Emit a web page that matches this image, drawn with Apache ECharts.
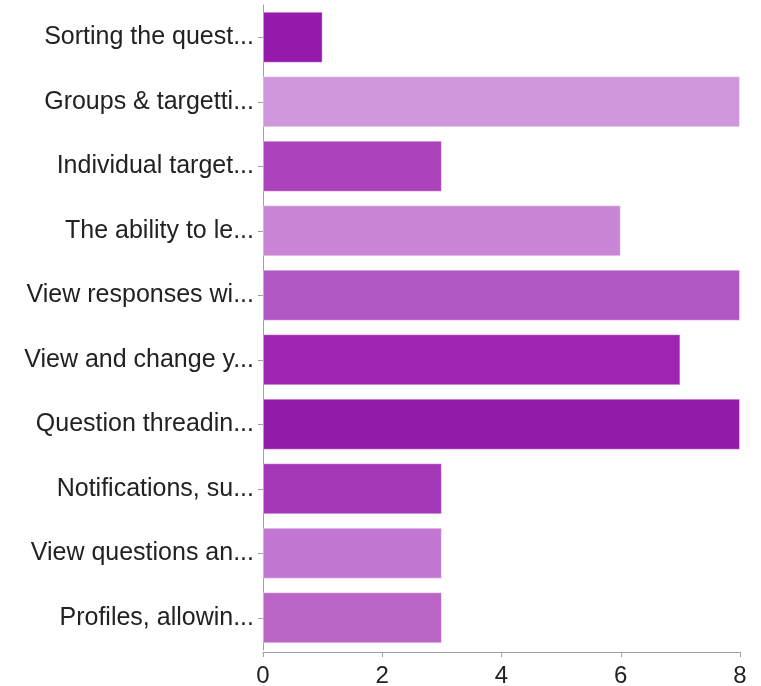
<!DOCTYPE html>
<html>
<head>
<meta charset="utf-8">
<script src="https://cdn.jsdelivr.net/npm/echarts@6/dist/echarts.min.js"></script>
<style>
  html, body { margin: 0; padding: 0; background: #fff; }
  #chart { width: 761px; height: 686px; }
</style>
</head>
<body>
<div id="chart"></div>
<script>
// Feature categories, listed top to bottom
const categories = [
  'Sorting the quest...',
  'Groups & targetti...',
  'Individual target...',
  'The ability to le...',
  'View responses wi...',
  'View and change y...',
  'Question threadin...',
  'Notifications, su...',
  'View questions an...',
  'Profiles, allowin...'
];
// Response counts per feature
const counts = [1, 8, 3, 6, 8, 7, 8, 3, 3, 3];
// One purple shade per bar
const barColors = [
  '#9519ab', '#d098dc', '#aa42bb', '#c985d6', '#b157c3',
  '#9d25b0', '#931ba9', '#a538b8', '#c278d3', '#bb65c6'
];
const xTicks = [0, 2, 4, 6, 8];

const chart = echarts.init(document.getElementById('chart'), null, { renderer: 'canvas' });

const font = 'Liberation Sans, Arial, Helvetica, sans-serif';

chart.setOption({
  animation: false,
  backgroundColor: '#ffffff',
  grid: { left: 263, right: 21, top: 5, bottom: 36, containLabel: false, outerBoundsMode: 'none' },
  xAxis: {
    type: 'value',
    min: xTicks[0],
    max: xTicks[xTicks.length - 1],
    interval: 2,
    offset: 2,
    axisLine: { show: true, lineStyle: { color: '#a0a0a0', width: 1 } },
    axisTick: { show: true, length: 5, lineStyle: { color: '#a0a0a0' } },
    splitLine: { show: false },
    axisLabel: { color: '#222', fontSize: 24, fontFamily: font, margin: 12 }
  },
  yAxis: {
    type: 'category',
    inverse: true,
    data: categories,
    axisLine: { show: true, lineStyle: { color: '#a0a0a0', width: 1 } },
    axisTick: { show: true, length: 5, alignWithLabel: true, lineStyle: { color: '#a0a0a0' } },
    axisLabel: { color: '#222', fontSize: 25, fontFamily: font, margin: 9, padding: [4, 0, 0, 0] }
  },
  series: [{
    type: 'bar',
    barCategoryGap: '21%',
    data: counts.map((v, i) => ({
      value: v,
      itemStyle: { color: barColors[i], borderColor: 'rgba(255,255,255,0.35)', borderWidth: 1 }
    }))
  }]
});
</script>
</body>
</html>
